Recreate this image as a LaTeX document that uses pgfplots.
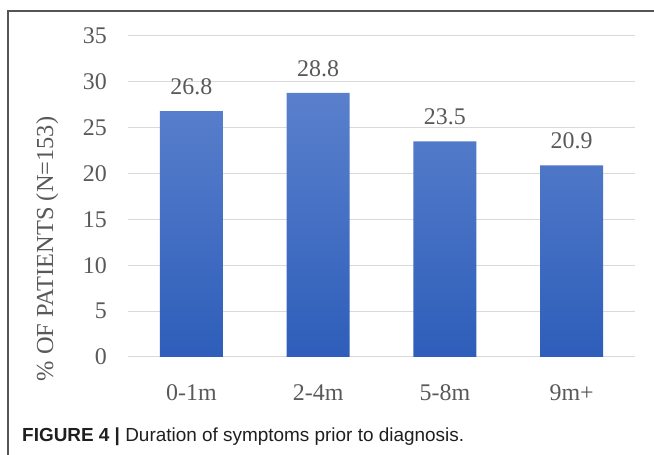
\documentclass[border=0pt]{standalone}
\usepackage{pgfplots}
\pgfplotsset{compat=1.18}
\usepackage{fontspec}
\setmainfont{Liberation Serif}
\newfontfamily\capfont{Liberation Sans}

\definecolor{txtgray}{HTML}{595959}
\definecolor{gridgray}{HTML}{D9D9D9}
\definecolor{framegray}{HTML}{555555}
\definecolor{bartop}{RGB}{90,128,204}
\definecolor{barmid}{RGB}{68,112,198}
\definecolor{barbot}{RGB}{46,94,186}

\pgfplotstableread{
x  pct
0  26.8
1  28.8
2  23.5
3  20.9
}\durationdata

\begin{document}
\begin{tikzpicture}[x=1bp,y=1bp]
\useasboundingbox (0,0) rectangle (654,455);

% frame: top rule and left rule
\draw[framegray, line width=1.2bp] (8,0) -- (8,444) -- (654,444);

\begin{axis}[
  at={(128bp,98bp)}, anchor=south west,
  scale only axis, width=507bp, height=321bp,
  xmin=-0.5, xmax=3.5, ymin=0, ymax=35,
  xtick=data, xticklabels={0-1m,2-4m,5-8m,9m+},
  ytick={0,5,...,35},
  axis line style={draw=none},
  tick style={draw=none},
  ymajorgrids, major grid style={gridgray, line width=1bp},
  /pgf/number format/assume math mode=true,
  ticklabel style={font=\fontsize{24}{28}\selectfont, text=txtgray},
  yticklabel style={anchor=east, inner sep=0pt, xshift=-21bp},
  xticklabel style={anchor=north, inner sep=0pt, yshift=-23bp},
  ybar, bar width=63bp,
  nodes near coords={\pgfmathprintnumber[fixed,fixed zerofill,precision=1]{\pgfplotspointmeta}},
  nodes near coords style={font=\fontsize{24}{28}\selectfont, text=txtgray,
    anchor=south, inner sep=0pt, yshift=16bp},
]
\addplot[draw=none, top color=bartop, middle color=barmid, bottom color=barbot]
  table[x=x, y=pct] {\durationdata};
\end{axis}

% axis title
\node[rotate=90, anchor=base, inner sep=0pt, text=txtgray,
      font=\fontsize{24.5}{28}\selectfont] at (53,206) {\% OF PATIENTS (N=153)};

% caption
\node[anchor=base west, inner sep=0pt, text=black!88,
      font=\capfont\fontsize{19}{22}\selectfont] at (22,13)
  {\textbf{FIGURE 4 |} Duration of symptoms prior to diagnosis.};
\end{tikzpicture}
\end{document}
